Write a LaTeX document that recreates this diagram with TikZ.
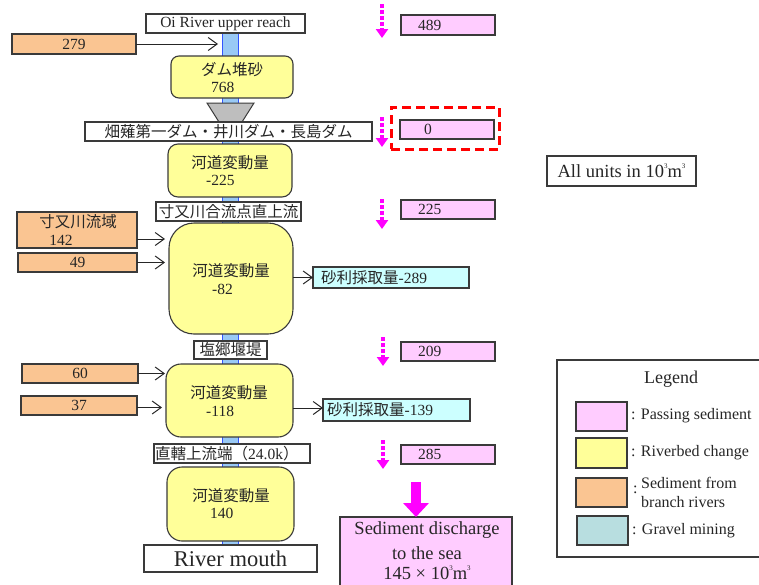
\documentclass[tikz,border=0pt]{standalone}
\usepackage{fontspec}
\setmainfont{Liberation Serif}
\newfontfamily\jp{Noto Sans CJK JP}
\usetikzlibrary{arrows.meta}
\definecolor{pinkc}{HTML}{FFCCFF}
\definecolor{yelc}{HTML}{FFFF99}
\definecolor{orc}{HTML}{FAC592}
\definecolor{cyc}{HTML}{CCFFFF}
\definecolor{tealc}{HTML}{B8DEE0}
\definecolor{edgec}{HTML}{3A3A3A}
\definecolor{rivc}{HTML}{99C9F5}
\definecolor{rivedge}{HTML}{3355FF}
\definecolor{magc}{HTML}{FF00FF}
\definecolor{grayc}{HTML}{BEBEBE}
\newcommand{\bx}[7]{\node[#2, minimum width={(#5-#3)*1pt}, minimum height={(#6-#4)*1pt}] (#1) at ({(#3+#5)/2},{(#4+#6)/2}) {#7};}
\newcommand{\tinysup}[1]{\raisebox{1.1ex}{\fontsize{7}{7}\selectfont #1}}
\begin{document}
\begin{tikzpicture}[x=1pt,y=-1pt,
  box/.style={draw=edgec, line width=1.1pt, inner sep=0pt, outer sep=0pt, text=black!85, font=\fontsize{15.5}{17}\selectfont},
  wbox/.style={box, fill=white},
  pbox/.style={box, fill=pinkc},
  ybox/.style={box, fill=yelc},
  obox/.style={box, fill=orc},
  cbox/.style={box, fill=cyc},
  riv/.style={draw=rivedge, fill=rivc, line width=1pt, inner sep=0pt, outer sep=0pt},
  hlbox/.style={draw=red, line width=3pt, dash pattern=on 9pt off 5pt, inner sep=0pt, outer sep=0pt},
  txt/.style={inner sep=0pt, text=black!85, font=\fontsize{15.5}{17}\selectfont},
  lbl/.style={inner sep=0pt, text=black!85, font=\fontsize{16}{18}\selectfont},
  arr/.style={draw=black!85, line width=1pt, -{Straight Barb[length=9pt,width=13pt]}},
  magarr/.style={draw=magc, line width=3.5pt, dash pattern=on 3.5pt off 2.5pt, -{Triangle[length=9pt,width=12pt]}}
]
\useasboundingbox (0,0) rectangle (759,584);

% river bar
\bx{river}{riv}{222}{33}{238}{545}{}
\draw[fill=grayc, draw=edgec, line width=1pt] (207,103) -- (254,103) -- (242,122) -- (219,122) -- cycle;

% main column
\bx{oi}{wbox}{146}{14}{305}{33}{Oi River upper reach}
\bx{b279}{obox}{12}{34}{136}{54}{279}
\bx{dam}{ybox, rounded corners=8pt}{171}{56}{293}{98}{}
\node[txt] (damt) at (232,70) {\jp ダム堆砂};
\node[txt, anchor=west] (damn) at (211,87) {768};
\bx{dams}{wbox}{85}{122}{372}{141}{\jp 畑薙第一ダム・井川ダム・長島ダム}
\bx{c1}{ybox, rounded corners=10pt}{168}{144}{292}{197}{}
\node[txt] (c1t) at (230,163) {\jp 河道変動量};
\node[txt, anchor=west] (c1n) at (206,180) {-225};
\bx{sum}{wbox}{156}{202}{301}{221}{\jp 寸又川合流点直上流}
\bx{b142}{obox}{17}{212}{137}{248}{}
\node[txt] (b142t) at (78,222) {\jp 寸又川流域};
\node[txt] (b142n) at (61,240) {142};
\bx{b49}{obox}{18}{253}{137}{272}{49}
\bx{c2}{ybox, rounded corners=25pt}{169}{223}{293}{334}{}
\node[txt] (c2t) at (231,271) {\jp 河道変動量};
\node[txt, anchor=west] (c2n) at (212,289) {-82};
\bx{g1}{cbox}{313}{267}{469}{288}{}
\node[txt, anchor=west] (g1t) at (321,277.5) {{\jp 砂利採取量}-289};
\bx{shio}{wbox}{194}{341}{267}{359}{\jp 塩郷堰堤}
\bx{b60}{obox}{22}{364}{138}{383}{60}
\bx{b37}{obox}{21}{396}{137}{415}{37}
\bx{c3}{ybox, rounded corners=15pt}{166}{364}{293}{437}{}
\node[txt] (c3t) at (229,393) {\jp 河道変動量};
\node[txt, anchor=west] (c3n) at (206,411) {-118};
\bx{g2}{cbox}{323}{399}{470}{421}{}
\node[txt, anchor=west] (g2t) at (327,410) {{\jp 砂利採取量}-139};
\bx{chok}{wbox}{154}{444}{310}{463}{}
\node[txt, anchor=west] (chokt) at (155,453.5) {{\jp 直轄上流端（}24.0k{\jp ）}};
\bx{c4}{ybox, rounded corners=15pt}{167}{467}{294}{541}{}
\node[txt] (c4t) at (231,496) {\jp 河道変動量};
\node[txt, anchor=west] (c4n) at (210,513) {140};
\bx{mouth}{wbox, font=\fontsize{22.5}{24}\selectfont}{144}{545}{317}{572}{River mouth}

% arrows in main column
\draw[arr, shorten >=4pt] (b279.east) -- (b279.east -| river.west);
\draw[arr, shorten >=4pt] ([yshift=-9pt]b142.east) -- ([yshift=-9pt]b142.east -| c2.west);
\draw[arr, shorten >=4pt] (b49.east) -- (b49.east -| c2.west);
\draw[arr, shorten >=1pt] (b60.east) -- (b60.east -| c3.west);
\draw[arr, shorten >=4pt] ([yshift=-2pt]b37.east) -- ([yshift=-2pt]b37.east -| c3.west);
\draw[arr] (g1.west -| c2.east) -- (g1.west);
\draw[arr] ([yshift=2pt]g2.west -| c3.east) -- ([yshift=2pt]g2.west);

% passing sediment column
\bx{p1}{pbox}{401}{15}{495}{35}{}
\node[txt, anchor=west] (p1t) at (418,25) {489};
\bx{hl}{hlbox}{391}{107}{499}{149}{}
\bx{p2}{pbox}{400}{120}{494}{139}{}
\node[txt] (p2t) at (428,129.5) {0};
\bx{p3}{pbox}{401}{200}{495}{219}{}
\node[txt, anchor=west] (p3t) at (418,209.5) {225};
\bx{p4}{pbox}{401}{342}{495}{361}{}
\node[txt, anchor=west] (p4t) at (418,351.5) {209};
\bx{p5}{pbox}{401}{445}{495}{464}{}
\node[txt, anchor=west] (p5t) at (418,454.5) {285};

\coordinate (m1s) at (382,4);   \coordinate (m1e) at (382,38);
\coordinate (m2s) at (382,117); \coordinate (m2e) at (382,147);
\coordinate (m3s) at (382,199); \coordinate (m3e) at (382,229);
\coordinate (m4s) at (383,337); \coordinate (m4e) at (383,366);
\coordinate (m5s) at (383,440); \coordinate (m5e) at (383,469);
\draw[magarr] (m1s) -- (m1e);
\draw[magarr] (m2s) -- (m2e);
\draw[magarr] (m3s) -- (m3e);
\draw[magarr] (m4s) -- (m4e);
\draw[magarr] (m5s) -- (m5e);

% units
\bx{units}{wbox, font=\fontsize{18.5}{20}\selectfont}{547}{156}{696}{186}{All units in 10\tinysup{3}m\tinysup{3}}

% sea
\bx{sea}{pbox}{340}{517}{512}{600}{}
\node[txt, font=\fontsize{18.5}{20}\selectfont] (sea1) at (427,530) {Sediment discharge};
\node[txt, font=\fontsize{18.5}{20}\selectfont] (sea2) at (427,553) {to the sea};
\node[txt, font=\fontsize{18.5}{20}\selectfont] (sea3) at (427,573) {145 × 10\tinysup{3}m\tinysup{3}};
\coordinate (bas) at (416,482);
\coordinate (bae) at (416,517);
\draw[draw=magc, line width=10pt, -{Triangle[length=14pt,width=25pt]}] (bas) -- (bae);

% legend
\draw[draw=edgec, line width=1.1pt] (765,360) -- (557,360) -- (557,557) -- (765,557);
\node[lbl, font=\fontsize{18}{20}\selectfont] (legt) at (671,379) {Legend};
\bx{lp}{pbox}{576}{402}{627}{431}{}
\bx{ly}{ybox}{576}{438}{627}{468}{}
\bx{lo}{obox}{576}{478}{627}{507}{}
\bx{lt}{box, fill=tealc}{577}{516}{628}{545}{}
\node[lbl, anchor=west] (lpt) at (631,416) {: Passing sediment};
\node[lbl, anchor=west] (lyt) at (631,453) {: Riverbed change};
\node[lbl, anchor=west] (loc) at (633,490) {:};
\node[lbl, anchor=west] (lot1) at (641,483) {Sediment from};
\node[lbl, anchor=west] (lot2) at (641,502) {branch rivers};
\node[lbl, anchor=west] (ltt) at (632,531) {: Gravel mining};
\end{tikzpicture}
\end{document}
